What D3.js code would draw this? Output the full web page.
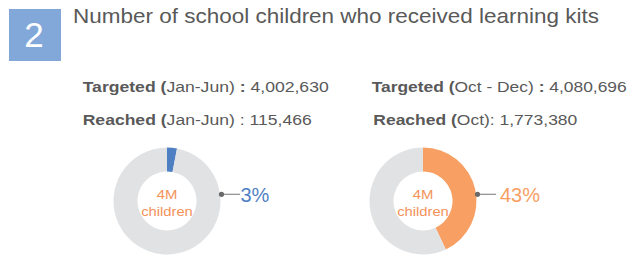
<!DOCTYPE html>
<html>
<head>
<meta charset="utf-8">
<script src="https://cdn.jsdelivr.net/npm/d3@7"></script>
<style>
  body { margin: 0; background: #fff; }
  svg { display: block; font-family: "Liberation Sans", Arial, sans-serif; }
</style>
</head>
<body>
<div id="chart"></div>
<script>
// data
const title = "Number of school children who received learning kits";
const sectionNumber = "2";
const targetPeriods = ["Jan-Jun", "Oct - Dec"];
const targeted = ["4,002,630", "4,080,696"];
const reachPeriods = ["Jan-Jun", "Oct"];
const reached = ["115,466", "1,773,380"];
const percents = [3, 43];
const centerLabel = ["4M", "children"];

const width = 629, height = 257;
const svg = d3.select("#chart").append("svg").attr("width", width).attr("height", height);

const textGrey = "#595959";
const pctColors = ["#4F7FC3", "#F8A064"];
const restColor = "#E1E2E4";
const centerColor = "#F4925A";

// header
svg.append("rect").attr("x", 9).attr("y", 9).attr("width", 52).attr("height", 52).attr("fill", "#82A8DA");
svg.append("text").attr("x", 34).attr("y", 46.5).attr("text-anchor", "middle")
    .attr("fill", "#fff").style("font-size", "35px").text(sectionNumber);
svg.append("text").attr("x", 73).attr("y", 23).attr("fill", textGrey)
    .attr("textLength", 526).attr("lengthAdjust", "spacingAndGlyphs")
    .style("font-size", "21px").text(title);

// two columns
const cx = d3.scaleLinear().domain([0, 1]).range([167, 423]);
const textX = [82.7, 371.7];
const rowWidths = [[246, 229], [255, 204]];
const labelGap = [19, 22.5];
const cy = 201;
const outerR = 53.5, innerR = 29.5;

const pie = d3.pie().sort(null).value(d => d);
const arc = d3.arc().innerRadius(innerR).outerRadius(outerR);

percents.forEach((p, i) => {
    // text rows
    const t1 = svg.append("text").attr("x", textX[i]).attr("y", 91.5).attr("fill", textGrey)
        .attr("textLength", rowWidths[i][0]).attr("lengthAdjust", "spacingAndGlyphs")
        .style("font-size", "15.5px");
    t1.append("tspan").attr("font-weight", "bold").text("Targeted (");
    t1.append("tspan").text(targetPeriods[i] + ") ");
    t1.append("tspan").attr("font-weight", "bold").text(":");
    t1.append("tspan").text(" " + targeted[i]);

    const t2 = svg.append("text").attr("x", textX[i] + (i === 1 ? 1.6 : 0)).attr("y", 125).attr("fill", textGrey)
        .attr("textLength", rowWidths[i][1]).attr("lengthAdjust", "spacingAndGlyphs")
        .style("font-size", "15.5px");
    t2.append("tspan").attr("font-weight", "bold").text("Reached (");
    t2.append("tspan").text(reachPeriods[i] + (i === 0 ? ") : " : "): ") + reached[i]);

    // donut
    const g = svg.append("g").attr("transform", `translate(${cx(i)},${cy})`);
    g.selectAll("path")
        .data(pie([p, 100 - p]))
        .join("path")
        .attr("d", arc)
        .attr("fill", (d, j) => j === 0 ? pctColors[i] : restColor);

    g.selectAll("text.center")
        .data(centerLabel)
        .join("text")
        .attr("class", "center")
        .attr("x", 0)
        .attr("y", (d, j) => -2 + j * 17)
        .attr("text-anchor", "middle")
        .attr("fill", centerColor)
        .attr("textLength", (d, j) => j === 0 ? 20.6 : 51.6)
        .attr("lengthAdjust", "spacingAndGlyphs")
        .style("font-size", "13px")
        .text(d => d);

    // callout
    const dotX = outerR + 1, dotY = -6.7;
    g.append("line").attr("x1", dotX).attr("y1", dotY).attr("x2", dotX + 18.5).attr("y2", dotY)
        .attr("stroke", "#8c8c8c").attr("stroke-width", 1.2);
    g.append("circle").attr("cx", dotX).attr("cy", dotY).attr("r", 2.6).attr("fill", "#6a6a6a");
    g.append("text").attr("x", dotX + labelGap[i]).attr("y", 1.3)
        .attr("fill", pctColors[i]).style("font-size", "20px").text(p + "%");
});
</script>
</body>
</html>
